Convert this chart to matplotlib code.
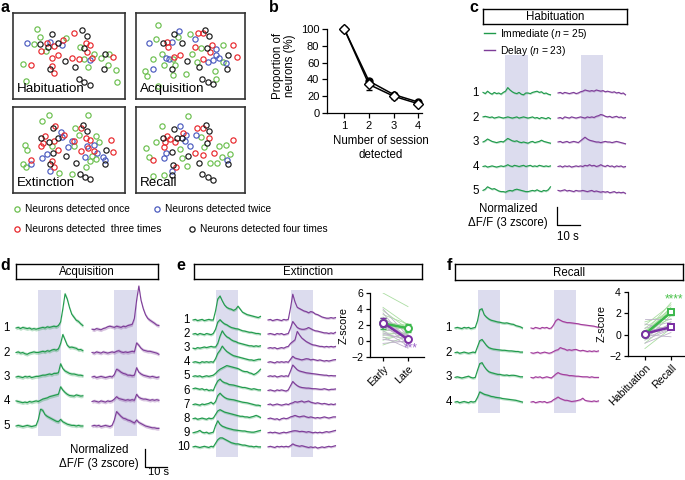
import numpy as np
import matplotlib
matplotlib.use('Agg')
import matplotlib.pyplot as plt
from matplotlib.lines import Line2D

plt.rcParams['font.family'] = ['Liberation Sans', 'DejaVu Sans']
plt.rcParams['mathtext.fontset'] = 'custom'
plt.rcParams['mathtext.rm'] = 'Liberation Sans'
plt.rcParams['mathtext.it'] = 'Liberation Sans:italic'

# ---------------- data ----------------
# panel a: (x, y, times detected) in field-of-view units
hab = [(80,57,1),(90,82,1),(50,99,2),(73,103,1),(90,101,4),(110,100,3),(120,95,2),(127,72,4),(115,110,4),
       (133,107,3),(145,100,4),(155,106,2),(158,90,3),(168,84,1),(193,70,3),(215,60,4),(230,78,4),(228,100,3),
       (240,105,3),(210,112,1),(222,113,4),(230,125,3),(253,133,1),(285,133,4),(297,131,1),(310,140,3),
       (92,122,3),(107,124,1),(143,135,3),(125,145,3),(165,152,4),(185,145,3),(208,148,3),(222,148,1),
       (240,151,2),(245,143,3),(272,145,1),(38,162,1),(62,165,3),(125,168,3),(120,177,4),(132,188,3),
       (196,172,4),(233,172,1),(283,177,4),(295,165,1),(319,180,1),(48,213,1),(208,208,4),(223,217,4),
       (239,224,4),(322,215,1)]
acq = [(443,45,1),(508,62,2),(585,60,4),(563,70,3),(578,70,3),(598,77,4),(540,72,1),(505,80,1),(493,73,4),
       (437,88,1),(418,99,2),(460,100,4),(470,97,3),(487,96,2),(515,100,4),(555,88,2),(475,110,3),(555,110,3),
       (572,114,1),(590,113,4),(607,104,3),(640,106,1),(670,106,3),(617,118,2),(600,126,3),(547,133,1),
       (510,134,3),(455,132,1),(468,143,2),(478,146,2),(490,146,1),(493,140,3),(430,146,1),(530,152,4),
       (578,148,3),(593,156,2),(610,150,2),(618,135,2),(628,143,2),(655,135,4),(640,155,1),(680,140,3),
       (648,158,2),(463,165,1),(495,165,1),(487,178,4),(560,157,1),(566,172,4),(615,182,1),(652,177,4),
       (405,183,1),(430,177,2),(410,198,1),(490,196,1),(528,192,1),(577,208,4),(593,216,4),(608,223,4),
       (618,207,1),(445,228,1)]
ext = [(118,33,1),(235,33,1),(97,52,1),(130,72,4),(135,65,3),(212,72,3),(218,62,4),(195,73,1),(232,82,4),
       (152,85,2),(162,93,3),(92,103,4),(106,97,3),(100,116,3),(118,113,4),(133,110,3),(145,102,4),(155,100,2),
       (207,92,1),(228,103,3),(241,107,3),(259,97,1),(268,113,1),(302,108,3),(185,112,2),(193,110,3),
       (193,125,1),(175,128,2),(93,127,3),(125,127,1),(144,138,3),(230,125,2),(235,133,3),(252,123,2),
       (252,140,3),(262,147,2),(45,122,1),(52,138,1),(214,140,3),(112,150,2),(128,148,4),(167,155,4),
       (95,163,2),(127,170,3),(225,158,2),(245,155,1),(287,138,4),(310,143,3),(280,160,2),(284,167,2),
       (285,180,4),(258,166,1),(241,172,1),(63,168,3),(63,180,2),(40,181,1),(48,190,1),(120,181,4),
       (133,190,3),(198,178,4),(228,190,1),(120,200,2),(148,206,1),(187,211,1),(210,211,4),(225,218,4),
       (241,226,4)]
rec = [(535,35,1),(457,66,1),(510,65,2),(493,75,4),(587,63,4),(562,73,3),(580,72,3),(598,81,4),(520,86,3),
       (557,93,2),(437,115,1),(472,97,3),(460,103,4),(480,104,3),(500,101,4),(515,102,4),(527,92,2),
       (573,100,1),(598,102,3),(590,117,4),(465,115,3),(495,115,3),(408,131,1),(463,128,3),(525,112,2),
       (510,134,1),(540,127,2),(583,130,1),(628,127,1),(648,123,1),(670,108,3),(468,147,2),(485,143,4),
       (555,147,3),(579,152,3),(612,147,3),(660,150,1),(417,160,1),(430,168,3),(463,163,2),(517,163,1),
       (535,155,4),(635,160,1),(652,168,2),(653,180,4),(488,182,4),(532,185,1),(567,178,4),(600,178,1),
       (620,178,1),(485,200,2),(497,190,3),(430,215,1),(462,213,1),(485,213,4),(577,210,4),(593,218,4),
       (610,227,4)]
legend_a = ['Neurons detected once', 'Neurons detected twice',
            'Neurons detected  three times', 'Neurons detected four times']

# panel b
sessions = [1, 2, 3, 4]
prop_filled = [100, 38, 22, 13]
err_filled = [0, 3, 2, 1.5]
prop_open = [100, 34, 20, 11]
err_open = [0, 7, 3, 2]

# traces, z-score, sampled each second from -10 s to 20 s (CS 0-10 s)
t = np.arange(-10, 21)
CS_ON, CS_OFF = 0, 10

c_green = [
    [0.1,-0.1,0.3,0.0,-0.2,0.1,-0.1,0.0,-0.2,0.1, 0.3,0.9,0.5,0.2,0.0,-0.1,0.1,-0.2,-0.3,0.0, 0.0,-0.1,0.1,0.2,0.3,0.1,0.2,-0.1,0.0,-0.2,-0.3],
    [0.1,0.2,0.1,0.0,0.1,-0.1,0.0,0.1,0.0,-0.1, 0.0,0.1,0.0,-0.1,0.0,0.1,-0.1,0.0,0.1,0.0, -0.1,0.0,0.1,-0.1,0.0,-0.2,0.0,-0.1,-0.2,0.0,-0.2],
    [0.0,0.2,0.5,0.3,0.1,0.0,-0.1,0.0,0.1,0.0, 0.3,0.6,0.4,0.2,0.1,0.2,0.0,-0.1,0.0,-0.1, -0.2,0.0,0.1,-0.1,0.0,0.1,0.3,0.1,0.0,-0.1,-0.2],
    [0.0,0.1,-0.1,0.0,0.1,0.0,-0.1,0.0,0.1,0.0, 0.1,0.3,0.1,0.0,0.2,0.1,0.0,0.1,0.2,0.0, 0.1,0.2,0.0,0.1,0.0,0.2,0.1,0.0,0.1,0.0,0.1],
    [0.1,0.3,0.7,0.5,0.3,0.4,0.2,0.0,-0.1,-0.1, -0.2,0.0,0.1,0.0,0.2,0.3,0.2,0.1,0.0,-0.1, -0.1,0.0,0.1,0.0,0.2,0.0,-0.1,0.1,0.0,0.2,0.7],
]
c_purple = [
    [0.0,0.1,-0.1,0.1,0.0,-0.1,0.0,0.1,-0.1,0.0, 0.2,0.3,0.5,0.4,0.3,0.4,0.3,0.5,0.4,0.3, 0.4,0.2,0.3,0.2,0.1,0.2,0.0,0.1,-0.1,0.0,-0.3],
    [-0.1,0.0,-0.2,0.1,0.0,-0.1,0.1,0.0,-0.1,0.0, 0.1,0.0,-0.1,0.1,0.0,0.1,0.0,0.2,0.3,0.5, 0.4,0.2,0.1,0.2,0.0,0.1,0.2,0.0,0.1,-0.1,0.0],
    [0.0,0.1,-0.1,0.0,0.1,-0.1,0.0,0.1,0.0,-0.1, 0.2,0.5,0.8,0.5,0.3,0.2,0.1,0.0,0.0,-0.1, 0.0,0.1,0.0,0.0,-0.1,0.0,0.1,0.0,-0.1,-0.2,-0.3],
    [0.0,0.1,-0.1,0.1,0.0,0.1,-0.1,0.0,0.1,0.0, 0.1,0.0,0.2,0.1,0.3,0.1,0.2,0.0,0.1,0.3, 0.1,0.0,0.2,0.0,0.1,-0.1,0.1,0.0,0.1,-0.1,0.0],
    [0.1,0.0,0.1,0.2,0.0,0.1,0.0,-0.1,0.1,0.0, 0.0,0.1,0.0,-0.1,0.0,0.1,-0.1,0.0,-0.1,-0.2, -0.1,-0.2,-0.1,-0.3,-0.2,-0.1,-0.3,-0.2,-0.3,-0.2,-0.4],
]
d_green = [
    [0.0,0.1,-0.1,0.1,0.0,-0.1,0.0,-0.2,-0.1,-0.2, -0.1,0.0,0.1,0.0,0.2,0.1,0.2,0.3,0.2,0.4, 1.0,3.2,5.7,4.8,3.4,2.3,1.8,1.3,1.1,0.7,0.4],
    [0.0,0.1,-0.1,0.0,-0.2,-0.3,-0.1,0.0,0.1,0.0, 0.0,0.1,0.2,0.1,0.3,0.2,0.4,0.5,0.4,0.6, 1.5,3.0,2.1,1.2,0.85,0.9,0.8,0.7,0.45,0.5,0.3],
    [0.0,0.1,0.0,-0.1,0.1,0.0,0.1,-0.1,0.0,0.1, 0.1,0.2,0.3,0.3,0.4,0.5,0.4,0.6,0.6,0.7, 2.2,1.4,1.0,0.8,0.6,0.5,0.5,0.4,0.3,0.3,0.2],
    [0.1,0.0,-0.1,-0.2,-0.1,-0.2,0.0,-0.1,0.0,0.1, 0.0,0.2,0.4,0.5,0.6,0.8,0.9,1.0,1.1,1.2, 2.45,1.9,1.5,1.2,1.0,0.95,0.9,1.1,1.0,0.9,0.95],
    [0.0,0.1,0.0,-0.1,0.0,0.1,0.0,-0.1,0.0,0.1, 1.1,2.8,2.6,1.9,1.6,1.4,1.2,1.0,0.8,0.7, 1.1,0.7,0.5,0.3,0.2,0.1,0.1,0.0,0.1,0.0,0.0],
]
d_purple = [
    [-0.2,-0.3,-0.1,-0.2,-0.3,-0.1,0.0,0.2,0.3,0.2, 0.1,0.3,0.2,0.1,0.3,0.2,0.4,0.5,0.6,1.6, 4.6,7.0,4.6,3.2,2.2,1.6,1.3,1.05,0.8,0.5,0.4],
    [0.0,-0.1,0.1,0.0,-0.1,0.1,0.0,-0.1,0.0,0.1, 0.0,0.2,0.3,0.1,0.0,0.1,0.0,0.1,0.2,0.1, 1.6,1.2,0.7,0.4,0.3,0.2,0.2,0.1,0.0,-0.1,-0.3],
    [0.0,0.1,-0.1,0.0,0.1,0.0,-0.1,0.0,0.1,0.0, 0.4,1.3,1.1,0.8,0.6,0.5,0.3,0.3,0.2,0.3, 1.55,0.8,0.5,0.3,0.2,0.1,0.0,0.1,0.0,-0.1,0.0],
    [0.0,0.1,0.0,-0.1,0.1,0.0,-0.1,0.1,0.0,0.1, 0.4,0.8,0.5,0.4,0.3,0.2,0.3,0.2,0.3,0.2, 1.2,0.7,0.5,0.4,0.4,0.3,0.2,0.3,0.2,0.3,0.2],
    [0.0,0.1,0.0,0.1,-0.1,0.0,0.1,0.0,-0.1,0.1, 1.0,2.4,2.0,1.6,1.3,1.2,1.0,0.9,0.7,0.5, 1.0,0.6,0.4,0.2,0.0,-0.1,-0.2,-0.3,-0.3,-0.4,-0.4],
]
e_green = [
    [0.0,0.1,-0.1,0.0,0.1,-0.1,0.0,0.1,0.0,0.0, 1.5,3.5,4.0,3.2,2.5,2.1,1.9,1.8,1.6,1.8, 2.3,1.8,1.3,1.1,0.9,0.8,0.7,0.6,0.5,0.4,0.6],
    [0.0,0.1,-0.1,0.1,0.0,-0.1,0.1,0.0,-0.1,0.1, 0.8,2.0,2.4,2.0,1.7,1.55,1.3,1.1,1.0,0.9, 0.85,0.7,0.55,0.5,0.4,0.3,0.3,0.2,0.1,0.1,0.0],
    [0.0,-0.1,0.1,0.0,0.1,0.2,0.1,0.2,0.3,0.2, 0.2,0.8,2.0,2.9,2.3,1.9,1.7,1.4,1.2,1.1, 0.9,0.8,0.7,0.6,0.5,0.4,0.4,0.3,0.4,0.3,0.4],
    [0.0,0.1,0.0,-0.1,0.1,0.0,0.1,0.0,0.1,0.0, 0.6,1.5,2.0,2.7,2.2,1.8,1.55,1.3,1.1,1.0, 0.9,0.8,0.7,0.6,0.5,0.4,0.4,0.3,0.4,0.5,0.5],
    [0.0,0.1,0.0,0.1,-0.1,0.0,0.1,0.0,0.1,0.2, 0.5,0.9,1.2,1.4,1.6,1.8,1.7,1.6,1.5,1.4, 1.3,1.1,0.9,0.8,0.8,0.6,0.5,0.3,0.5,0.8,1.2],
    [0.3,0.4,0.3,0.2,0.3,0.1,0.2,0.0,0.1,0.0, 0.9,1.6,1.9,1.5,1.3,1.2,1.0,0.95,0.9,0.8, 0.7,0.6,0.5,0.5,0.4,0.3,0.2,0.3,0.2,0.1,0.1],
    [0.0,0.1,0.0,-0.1,0.1,0.0,0.1,0.2,0.4,0.1, 0.5,1.5,1.9,1.5,1.2,1.0,0.9,0.85,0.8,0.7, 0.6,0.5,0.4,0.35,0.3,0.2,0.1,0.0,-0.1,-0.1,-0.2],
    [0.0,0.1,-0.1,0.0,0.1,0.0,-0.1,0.1,0.0,0.1, 0.7,1.3,1.5,1.3,1.1,1.0,0.9,0.8,0.7,0.6, 0.5,0.4,0.4,0.3,0.3,0.2,0.3,0.4,0.55,0.4,0.2],
    [0.0,0.1,0.2,0.4,0.1,0.0,0.1,-0.1,0.0,0.1, 1.2,2.0,1.4,1.1,0.95,0.8,0.7,0.6,0.5,0.45, 0.4,0.35,0.3,0.3,0.2,0.15,0.1,0.1,0.2,0.3,0.4],
    [0.0,0.1,0.0,-0.1,0.0,0.1,0.0,-0.1,0.1,0.0, 0.6,1.2,1.5,1.5,1.3,1.1,0.9,0.7,0.6,0.5, 0.5,0.4,0.3,0.3,0.2,0.1,0.1,0.0,0.1,0.0,0.0],
]
e_purple = [
    [0.0,0.1,-0.1,0.0,0.1,0.0,-0.1,0.1,0.0,0.1, 2.0,4.3,3.0,2.1,1.9,1.7,1.5,1.4,1.2,1.4, 1.3,1.0,0.9,0.7,0.5,0.4,0.3,0.3,0.4,0.3,0.4],
    [0.0,0.1,0.0,-0.1,0.1,0.0,0.1,-0.1,0.0,0.1, 1.0,2.1,1.6,1.1,0.9,0.8,0.8,0.9,1.1,0.9, 0.7,0.55,0.5,0.4,0.3,0.2,0.2,0.1,0.2,0.1,0.3],
    [0.0,0.1,0.0,0.1,-0.1,0.0,0.1,0.0,0.2,0.3, 0.8,1.1,1.4,2.8,2.2,1.7,1.4,1.1,0.9,0.7, 0.55,0.5,0.4,0.3,0.3,0.2,0.3,0.2,0.3,0.2,0.3],
    [0.0,0.1,0.0,-0.1,0.1,0.0,0.1,0.0,0.1,0.0, 0.5,1.0,0.7,0.6,0.5,0.4,0.5,0.6,0.55,0.4, 0.5,0.4,0.3,0.4,0.3,0.2,0.3,0.2,0.3,0.4,0.45],
    [0.0,0.1,0.0,0.1,-0.1,0.0,0.1,0.0,0.1,0.0, 0.9,1.9,1.5,1.1,0.9,0.8,0.7,0.6,0.55,0.5, 0.45,0.4,0.35,0.3,0.25,0.2,0.2,0.1,0.15,0.1,0.1],
    [0.0,0.1,0.0,-0.1,0.1,0.0,0.1,0.0,-0.1,0.1, 0.8,1.5,1.1,0.8,0.6,0.5,0.45,0.4,0.4,0.35, 0.3,0.3,0.25,0.2,0.2,0.3,0.2,0.1,0.2,0.2,0.25],
    [0.0,0.1,-0.1,0.0,0.1,0.0,-0.1,0.0,0.1,0.0, 0.2,0.3,0.5,0.4,0.5,0.6,0.4,0.5,0.6,0.4, 0.3,0.2,0.3,0.2,0.1,0.2,0.1,0.0,0.1,0.0,0.1],
    [0.0,0.1,0.0,-0.1,0.0,-0.2,0.0,0.1,0.0,0.1, 0.3,0.4,0.55,0.4,0.3,0.4,0.45,0.3,0.2,0.3, 0.2,0.1,0.2,0.1,0.2,0.3,0.2,0.1,0.2,0.3,0.3],
    [0.0,0.1,0.0,0.1,0.0,-0.1,0.0,0.1,0.0,0.1, 0.2,0.3,0.35,0.3,0.2,0.25,0.2,0.1,0.2,0.1, 0.0,0.1,0.0,0.1,0.0,0.1,0.2,0.1,0.2,0.3,0.4],
    [0.0,0.1,0.0,-0.1,0.1,0.0,0.1,0.0,0.1,0.0, 0.2,0.5,0.3,0.2,0.1,0.2,0.1,0.0,-0.1,0.0, -0.1,0.0,-0.2,-0.1,0.0,-0.1,0.0,0.1,0.0,0.1,0.2],
]
f_green = [
    [0.0,0.1,0.0,-0.1,0.1,0.0,0.1,-0.1,0.0,0.1, 1.2,3.05,3.2,2.2,1.8,1.5,1.3,1.2,1.1,1.0, 0.95,0.85,0.8,0.85,0.75,0.65,0.6,0.4,0.3,0.2,0.0],
    [0.0,0.1,-0.1,0.0,0.1,0.0,-0.1,0.0,0.1,0.0, 1.0,2.0,2.2,1.7,1.2,0.85,0.7,0.6,0.55,0.5, 0.45,0.4,0.4,0.35,0.3,0.3,0.25,0.2,0.2,0.1,0.1],
    [0.0,0.1,0.0,-0.1,0.0,0.1,0.2,0.0,-0.1,0.0, 1.2,2.3,2.45,1.8,1.3,0.95,0.8,0.7,0.6,0.5, 0.5,0.4,0.35,0.4,0.3,0.35,0.35,0.3,0.2,0.1,0.1],
    [0.0,0.1,-0.1,0.0,0.1,0.0,-0.1,0.1,0.0,0.1, 0.8,1.7,1.5,1.3,1.2,1.1,0.95,0.9,0.8,0.75, 0.7,0.6,0.55,0.5,0.45,0.4,0.35,0.3,0.2,0.1,0.0],
]
f_purple = [
    [0.0,-0.1,0.1,0.0,-0.1,0.1,0.0,0.1,-0.1,0.0, 0.5,1.2,1.5,1.3,1.1,1.0,0.9,0.9,0.85,0.8, 0.75,0.7,0.6,0.55,0.5,0.45,0.4,0.35,0.3,0.2,0.1],
    [0.0,-0.1,0.0,0.1,-0.1,0.0,0.1,0.0,-0.1,0.0, 0.2,0.4,0.5,0.85,0.7,0.6,0.4,0.5,0.4,0.5, 0.55,0.4,0.3,0.4,0.3,0.2,0.3,0.2,0.3,0.2,0.3],
    [0.0,-0.1,0.1,0.0,0.1,-0.1,0.0,0.1,0.0,-0.1, 0.2,0.55,0.8,0.6,0.5,0.45,0.4,0.3,0.3,0.25, 0.2,0.2,0.15,0.1,0.1,0.1,0.0,0.1,0.0,0.0,0.0],
    [0.0,0.1,-0.1,0.0,0.1,0.0,0.1,-0.1,0.0,0.1, 0.4,0.6,0.85,0.6,0.45,0.3,0.3,0.2,0.1,0.15, 0.2,0.3,0.4,0.65,0.3,0.2,0.15,0.1,0.2,0.1,0.2],
]
sem_c = (0.15, 0.15)
sem_d = (0.3, 0.3)
sem_e = (0.22, 0.18)
sem_f = (0.22, 0.15)

# insets (z-score per neuron)
e_cats = ['Early', 'Late']
e_early_g = [6.0, 4.2, 3.8, 3.3, 2.8, 2.5, 2.0, 1.6, 1.2, 1.0, 0.7, 0.4, 0.1, -0.5]
e_late_g = [4.3, 2.0, 1.5, 2.1, 1.2, 1.8, 1.4, 2.2, 1.8, 0.9, 1.2, 0.8, 1.0, 0.6]
e_early_p = [4.0, 3.5, 3.0, 2.8, 2.4, 2.1, 1.8, 1.5, 1.3, 1.0, 0.8, 0.5, 0.2, -0.3]
e_late_p = [0.6, -0.2, 0.4, 0.0, 0.5, -0.4, 0.2, 0.8, -0.6, 0.1, 0.3, -0.9, -0.2, 0.0]
e_mean_g, e_err_g = [2.2, 1.6], [0.7, 0.5]
e_mean_p, e_err_p = [2.3, 0.2], [0.6, 0.2]

f_cats = ['Habituation', 'Recall']
f_hab_g = [-1.3, -0.8, -0.5, -0.3, 0.0, 0.2, 0.4, 0.6, 0.9, 1.2, -0.1, 0.3]
f_rec_g = [0.6, 1.2, 1.8, 2.2, 2.6, 3.0, 1.5, 2.4, 2.8, 1.9, 2.0, 2.3]
f_hab_p = [-0.8, -0.5, -0.2, 0.0, 0.3, 0.6, 1.0, 1.5, 0.2, -0.3]
f_rec_p = [0.2, 0.5, 1.0, -0.2, 0.8, 1.2, 0.4, 1.5, 0.9, 0.6]
f_mean_g, f_err_g = [0.05, 2.1], [0.15, 0.3]
f_mean_p, f_err_p = [0.1, 0.7], [0.1, 0.15]

# ---------------- style ----------------
W, H = 685, 480
GREEN = '#1f9a4b'
PURPLE = '#7d3c98'
MAGENTA = '#a23c9c'
SHADE = '#dcdcee'
GREEN_M, PURPLE_M = '#3cb84c', '#7a2ea3'
GREEN_L, PURPLE_L = '#abdda2', '#bdb2c9'
DOT_COLS = {1: '#6bbf4e', 2: '#4b5bbf', 3: '#e8262b', 4: '#1a1a1a'}
PPZ = 6.0  # pixels per z-score unit

fig = plt.figure(figsize=(6.85, 4.8), dpi=100)


def px_axes(x0, y0, x1, y1):
    return fig.add_axes([x0 / W, 1 - y1 / H, (x1 - x0) / W, (y1 - y0) / H])


def letter(x, y, s):
    fig.text(x / W, 1 - y / H, s, fontsize=11.5, fontweight='bold', ha='center', va='center')


def title_box(x0, y0, x1, y1, s):
    ax = px_axes(x0, y0, x1, y1)
    ax.set_xticks([])
    ax.set_yticks([])
    for sp in ax.spines.values():
        sp.set_linewidth(1.0)
    ax.text(0.5, 0.45, s, ha='center', va='center', fontsize=8.3, transform=ax.transAxes)


# ---------------- panel a ----------------
letter(5, 7, 'a')
boxes_a = [(hab, 'Habituation', (12.7, 12.7, 125, 99.3), 8),
           (acq, 'Acquisition', (135.7, 12.7, 245, 99.3), 377),
           (ext, 'Extinction', (12.7, 106.7, 125, 193.3), 8),
           (rec, 'Recall', (135.7, 106.7, 245, 193.3), 377)]
for pts, name, box, x0 in boxes_a:
    ax = px_axes(*box)
    ax.set_xlim(x0, x0 + (box[2] - box[0]) * 3)
    ax.set_ylim(268, 8)
    ax.set_xticks([])
    ax.set_yticks([])
    for sp in ax.spines.values():
        sp.set_linewidth(1.2)
        sp.set_color('#333333')
    for n in (1, 2, 3, 4):
        xs = [p[0] for p in pts if p[2] == n]
        ys = [p[1] for p in pts if p[2] == n]
        ax.plot(xs, ys, 'o', ms=3.8, mfc='none', mec=DOT_COLS[n], mew=0.85)
    ax.text(0.04, 0.05, name, transform=ax.transAxes, fontsize=9.6, ha='left', va='bottom')

leg_pos = [(17, 209, 1), (157, 209, 2), (17, 229, 3), (192, 229, 4)]
for (x, y, n), lab in zip(leg_pos, legend_a):
    fig.add_artist(Line2D([x / W], [1 - y / H], marker='o', ms=3.8, mfc='none', mec=DOT_COLS[n],
                          mew=0.9, transform=fig.transFigure))
    fig.text((x + 8) / W, 1 - y / H, lab, fontsize=7.3, ha='left', va='center')

# ---------------- panel b ----------------
letter(274, 7, 'b')
axb = px_axes(327, 29, 422, 113)
axb.errorbar(sessions, prop_filled, yerr=err_filled, color='k', lw=1.1, marker='o', ms=5,
             mfc='k', mec='k', capsize=2, elinewidth=0.8, clip_on=False, zorder=3)
axb.errorbar(sessions, prop_open, yerr=[err_open, [0] * 4], color='k', lw=1.1, marker='D', ms=5,
             mfc='white', mec='k', mew=1.0, capsize=2, elinewidth=0.8, clip_on=False, zorder=4)
axb.set_xlim(1 - 17 / 24.3, 4.15)
axb.set_ylim(0, 100)
axb.set_xticks(sessions)
axb.set_yticks([0, 20, 40, 60, 80, 100])
for s in ('top', 'right'):
    axb.spines[s].set_visible(False)
for s in ('left', 'bottom'):
    axb.spines[s].set_linewidth(0.9)
axb.tick_params(labelsize=8, length=3.5, width=0.9, pad=2)
fig.text(284 / W, 1 - 66 / H, 'Proportion of\nneurons (%)', rotation=90, ha='center', va='center',
         fontsize=8.3, multialignment='center', linespacing=1.1)
fig.text(381 / W, 1 - 148 / H, 'Number of session\ndetected', ha='center', va='center',
         fontsize=8.3, multialignment='center', linespacing=1.15)


# ---------------- trace panels ----------------
def trace_panel(P, green, purple, pcol, sem):
    bx0, by0, bx1, by1 = P['box']
    ax = px_axes(bx0, by0, bx1, by1)
    ax.axis('off')
    pps = P['pps']
    ax.set_xlim(-10 - (P['xg'] - bx0) / pps, -10 + (bx1 - P['xg']) / pps)
    ax.set_ylim(-(by1 - P['y0']) / PPZ, (P['y0'] - by0) / PPZ)
    off = (P['xp'] - P['xg']) / pps
    gap = P['gap'] / PPZ
    z_top = (P['y0'] - P['shade'][0]) / PPZ
    z_bot = (P['y0'] - P['shade'][1]) / PPZ
    for s in (0, off):
        ax.fill_between([s + CS_ON, s + CS_OFF], z_bot, z_top, color=SHADE, lw=0, zorder=0)
    lab_t = -10 + (P['lab'] - P['xg']) / pps
    for k in range(len(green)):
        base = -k * gap
        for tr, sm, col, shift in ((green[k], sem[0], GREEN, 0), (purple[k], sem[1], pcol, off)):
            y = np.asarray(tr) + base
            ax.fill_between(t + shift, y - sm, y + sm, color=col, alpha=0.3, lw=0, zorder=1)
            ax.plot(t + shift, y, color=col, lw=0.8, zorder=2)
        ax.text(lab_t, base, str(k + 1), ha='right', va='center', fontsize=8.3)
    return ax


def scale_bar(ax, P, px, py):
    x = -10 + (px - P['xg']) / P['pps']
    y = (P['y0'] - py) / PPZ
    ax.plot([x, x, x + 10], [y + 3, y, y], color='k', lw=0.9, clip_on=False)


P_c = dict(box=(465, 50, 640, 250), xg=483, xp=558, y0=93, gap=24.5, pps=2.25, shade=(55, 200), lab=479)
P_d = dict(box=(0, 283, 175, 480), xg=16, xp=92, y0=328, gap=24.5, pps=2.23, shade=(290, 436), lab=10)
P_e = dict(box=(175, 283, 345, 470), xg=193, xp=268, y0=320, gap=14.1, pps=2.25, shade=(290, 457), lab=190)
P_f = dict(box=(440, 283, 610, 470), xg=455, xp=531, y0=328, gap=24.7, pps=2.25, shade=(290, 413), lab=452)

# panel c
letter(474, 7, 'c')
title_box(483, 9, 627, 24, 'Habituation')
axc = trace_panel(P_c, c_green, c_purple, PURPLE, sem_c)
scale_bar(axc, P_c, 557, 225)
fig.text(508 / W, 1 - 216 / H, 'Normalized\n\u0394F/F (3 zscore)', ha='center', va='center',
         fontsize=8.3, multialignment='center', linespacing=1.15)
fig.text(568 / W, 1 - 237 / H, '10 s', ha='center', va='center', fontsize=8.3)
axc.legend(handles=[Line2D([], [], color=GREEN, lw=1.0), Line2D([], [], color=PURPLE, lw=1.0)],
           labels=['Immediate ($n$ = 25)', 'Delay ($n$ = 23)'], loc='upper left',
           bbox_to_anchor=(484 / W, 1 - 27 / H), bbox_transform=fig.transFigure, frameon=False,
           handlelength=1.1, handletextpad=0.5, borderpad=0, borderaxespad=0, labelspacing=0.3,
           fontsize=7.4)

# panel d
letter(5, 265, 'd')
title_box(16, 264, 158, 279, 'Acquisition')
axd = trace_panel(P_d, d_green, d_purple, PURPLE, sem_d)
scale_bar(axd, P_d, 145, 467)
fig.text(99 / W, 1 - 457 / H, 'Normalized\n\u0394F/F (3 zscore)', ha='center', va='center',
         fontsize=8.3, multialignment='center', linespacing=1.15)
fig.text(158 / W, 1 - 472 / H, '10 s', ha='center', va='center', fontsize=8.0)

# panel e
letter(181, 265, 'e')
title_box(194, 264, 422, 279, 'Extinction')
axe = trace_panel(P_e, e_green, e_purple, PURPLE, sem_e)

# panel f
letter(449, 265, 'f')
title_box(455, 264, 683, 280, 'Recall')
axf = trace_panel(P_f, f_green, f_purple, MAGENTA, sem_f)


# ---------------- insets ----------------
def inset(box, cats, xlim, ylim, yticks, pre_g, post_g, pre_p, post_p, mg, eg, mp, ep, mk2):
    ax = px_axes(*box)
    for a, b in zip(pre_g, post_g):
        ax.plot([0, 1], [a, b], color=GREEN_L, lw=0.6, zorder=1)
    for a, b in zip(pre_p, post_p):
        ax.plot([0, 1], [a, b], color=PURPLE_L, lw=0.6, zorder=1)
    for m, e, col in ((mg, eg, GREEN_M), (mp, ep, PURPLE_M)):
        ax.errorbar([0, 1], m, yerr=e, color=col, lw=1.8, capsize=2, elinewidth=1.2, zorder=3)
        ax.plot([0], [m[0]], 'o', ms=5, mfc='white', mec=col, mew=1.4, zorder=4)
        ax.plot([1], [m[1]], mk2, ms=5, mfc='white', mec=col, mew=1.4, zorder=4)
    ax.set_xlim(*xlim)
    ax.set_ylim(*ylim)
    ax.set_yticks(yticks)
    ax.set_xticks([0, 1])
    ax.set_xticklabels(cats, rotation=45, ha='right', rotation_mode='anchor')
    for s in ('top', 'right'):
        ax.spines[s].set_visible(False)
    for s in ('left', 'bottom'):
        ax.spines[s].set_linewidth(0.9)
    ax.tick_params(labelsize=7.6, length=3, width=0.9, pad=2)
    ax.set_ylabel('Z-score', fontsize=7.8, labelpad=2)
    return ax

axe_in = inset((370, 293, 424, 357), e_cats, (-0.52, 1.64), (-2, 6), [-2, 0, 2, 4, 6],
               e_early_g, e_late_g, e_early_p, e_late_p, e_mean_g, e_err_g, e_mean_p, e_err_p, 'o')
axe_in.text(1.12, -0.9, '***', color='#9b62c9', ha='center', va='center', fontsize=8.5)

axf_in = inset((628, 292, 684, 356), f_cats, (-0.65, 1.5), (-2, 4), [-2, 0, 2, 4],
               f_hab_g, f_rec_g, f_hab_p, f_rec_p, f_mean_g, f_err_g, f_mean_p, f_err_p, 's')
axf_in.text(1.1, 3.3, '****', color='#4cc24c', ha='center', va='center', fontsize=8.5, clip_on=False)

fig.savefig('out.png', dpi=100)
